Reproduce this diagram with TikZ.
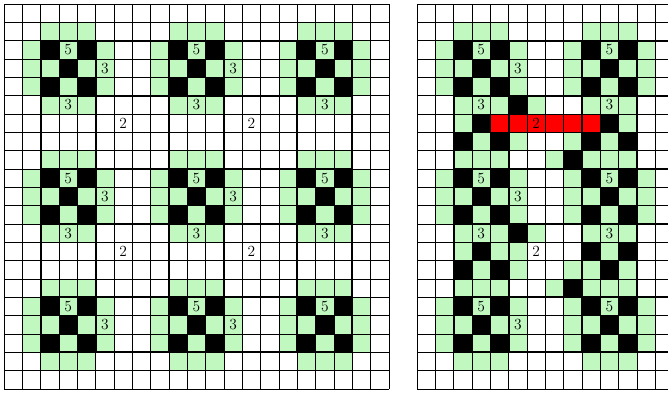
\documentclass[tikz,border=0pt]{standalone}
\usepackage{tikz}
\definecolor{safecol}{HTML}{C0F8C0}
\definecolor{clashcol}{HTML}{FF0000}

% one gadget: five black cells and the white cells round them
\newcommand{\xgadget}[2]{%
  \foreach \dx/\dy in {1/0,0/1,2/1,1/2,0/-1,1/-1,2/-1,0/3,1/3,2/3,-1/0,-1/1,-1/2,3/0,3/1,3/2}
    {\fill[safecol] (#1+\dx,#2+\dy) rectangle ++(1,1);}
  \foreach \dx/\dy in {0/0,2/0,1/1,0/2,2/2}
    {\fill[black] (#1+\dx,#2+\dy) rectangle ++(1,1);}
}

\tikzset{
  cellgrid/.style={line width=0.6pt, black, step=0.5cm},
  roomwall/.style={line width=1.6pt, black, line cap=rect},
  clue/.style={inner sep=0pt, font=\large},
}

\begin{document}
\begin{tikzpicture}[x=0.5cm, y=-0.5cm]
\useasboundingbox (-0.22,-0.22) rectangle (36.22,21.27);

% left board
\foreach \c in {2,9,16} \foreach \r in {2,9,16} {\xgadget{\c}{\r}}
\draw[cellgrid] (0,0) grid (21,21);
\foreach \k in {2,5,9,12,16,19} {
  \draw[roomwall] (\k,2) -- (\k,19);
  \draw[roomwall] (2,\k) -- (19,\k);
}
\foreach \c in {2,9,16} \foreach \r in {2,9,16}
  \node[clue] (five-\c-\r) at (\c+1.5,\r+0.5) {5};
\foreach \c in {2,9} \foreach \r in {2,9,16}
  \node[clue] (threer-\c-\r) at (\c+3.5,\r+1.5) {3};
\foreach \c in {2,9,16} \foreach \r in {2,9}
  \node[clue] (threeb-\c-\r) at (\c+1.5,\r+3.5) {3};
\foreach \c in {2,9} \foreach \r in {2,9}
  \node[clue] (two-\c-\r) at (\c+4.5,\r+4.5) {2};

% right board, cut at the page edge
\begin{scope}[shift={(22.53,0)}]
\clip (-0.5,-0.5) rectangle (13.69,21.5);
\foreach \c in {2,9} \foreach \r in {2,9,16} {\xgadget{\c}{\r}}
\foreach \x/\y in {6/5,2/6,11/6,3/7,5/7,8/7,10/7,7/8,
                   6/12,2/13,4/13,5/13,10/13,3/14,5/14,8/14,9/14,11/14,7/15}
  {\fill[safecol] (\x,\y) rectangle ++(1,1);}
\foreach \x/\y in {5/5,3/6,10/6,2/7,4/7,9/7,11/7,8/8,
                   5/12,3/13,9/13,11/13,2/14,4/14,10/14,8/15}
  {\fill[black] (\x,\y) rectangle ++(1,1);}
\foreach \x in {4,...,9}
  {\fill[clashcol] (\x,6) rectangle ++(1,1);}
\draw[cellgrid] (0,0) grid (21,21);
\foreach \k in {2,5,9,12,16,19} {
  \draw[roomwall] (\k,2) -- (\k,19);
  \draw[roomwall] (2,\k) -- (19,\k);
}
\foreach \c in {2,9} \foreach \r in {2,9,16}
  \node[clue] (rfive-\c-\r) at (\c+1.5,\r+0.5) {5};
\foreach \r in {2,9,16}
  \node[clue] (rthreer-\r) at (5.5,\r+1.5) {3};
\foreach \c in {2,9} \foreach \r in {2,9}
  \node[clue] (rthreeb-\c-\r) at (\c+1.5,\r+3.5) {3};
\foreach \r in {2,9}
  \node[clue] (rtwo-\r) at (6.5,\r+4.5) {2};
\end{scope}
\end{tikzpicture}
\end{document}
